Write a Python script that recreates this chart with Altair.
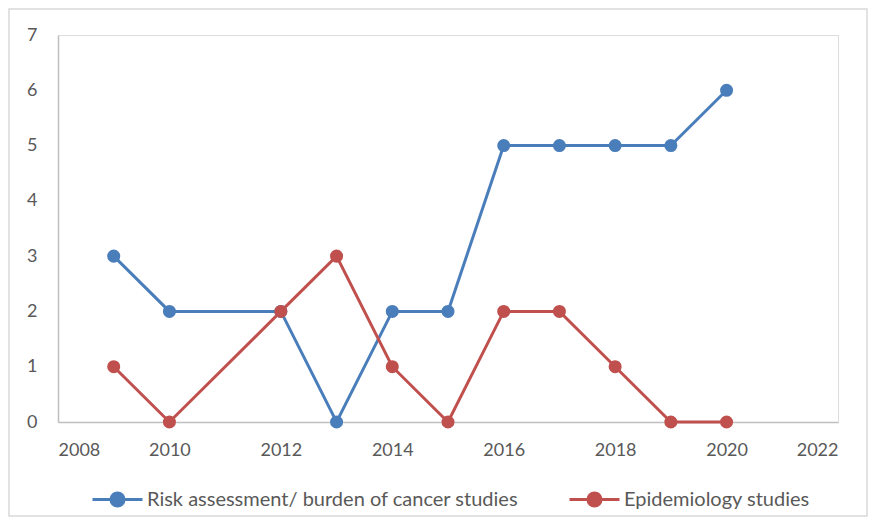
import altair as alt
import pandas as pd

years = [2009, 2010, 2012, 2013, 2014, 2015, 2016, 2017, 2018, 2019, 2020]
risk_values = [3, 2, 2, 0, 2, 2, 5, 5, 5, 5, 6]
epi_values = [1, 0, 2, 3, 1, 0, 2, 2, 1, 0, 0]
series_names = ["Risk assessment/ burden of cancer studies", "Epidemiology studies"]
colors = ["#4A7EBB", "#C0504D"]
x_ticks = [2008, 2010, 2012, 2014, 2016, 2018, 2020, 2022]
y_ticks = [0, 1, 2, 3, 4, 5, 6, 7]

rows = []
for y, v in zip(years, risk_values):
    rows.append({"year": y, "value": v, "series": series_names[0]})
for y, v in zip(years, epi_values):
    rows.append({"year": y, "value": v, "series": series_names[1]})
df = pd.DataFrame(rows)

FONT = "Lato"
GRAY = "#595959"
sym = "M-2.5,0H2.5M-0.65,0A0.65,0.65,0,1,1,0.65,0A0.65,0.65,0,1,1,-0.65,0Z"

lines = alt.Chart(df).mark_line(
    strokeWidth=3,
    point=alt.OverlayMarkDef(filled=True, size=170, opacity=1),
).encode(
    x=alt.X("year:Q", scale=alt.Scale(domain=[2008, 2022], nice=False, zero=False),
            axis=alt.Axis(values=x_ticks, format="d", title=None, ticks=False, grid=False,
                          domainColor="#BFBFBF", domainWidth=1.5, labelFont=FONT,
                          labelFontSize=18, labelColor=GRAY, labelPadding=19)),
    y=alt.Y("value:Q", scale=alt.Scale(domain=[0, 7], nice=False),
            axis=alt.Axis(values=y_ticks, title=None, ticks=False, grid=False,
                          domainColor="#BFBFBF", domainWidth=1.5, labelFont=FONT,
                          labelFontSize=18, labelColor=GRAY, labelPadding=21)),
    color=alt.Color("series:N", scale=alt.Scale(domain=series_names, range=colors),
                    sort=series_names,
                    legend=alt.Legend(title=None, orient="none", direction="horizontal",
                                      legendX=48, legendY=453,
                                      symbolType=sym, symbolSize=400, symbolStrokeWidth=3,
                                      labelFont=FONT, labelFontSize=20, labelColor=GRAY,
                                      labelLimit=0, labelOffset=18, columnPadding=44)),
)

border = alt.Chart(pd.DataFrame({"a": [0]})).mark_rect(
    fill=None, stroke="#D9D9D9", strokeWidth=1.5
).encode(x=alt.value(-49), x2=alt.value(809), y=alt.value(-26), y2=alt.value(481))

chart = alt.layer(border, lines).properties(
    width=780, height=387,
    padding={"left": 50, "top": 27, "right": 30, "bottom": 96},
    autosize=alt.AutoSizeParams(type="none"),
).configure_view(stroke=None).configure(background="white")

chart.save("out.html", embed_options={"renderer": "svg", "actions": False})
